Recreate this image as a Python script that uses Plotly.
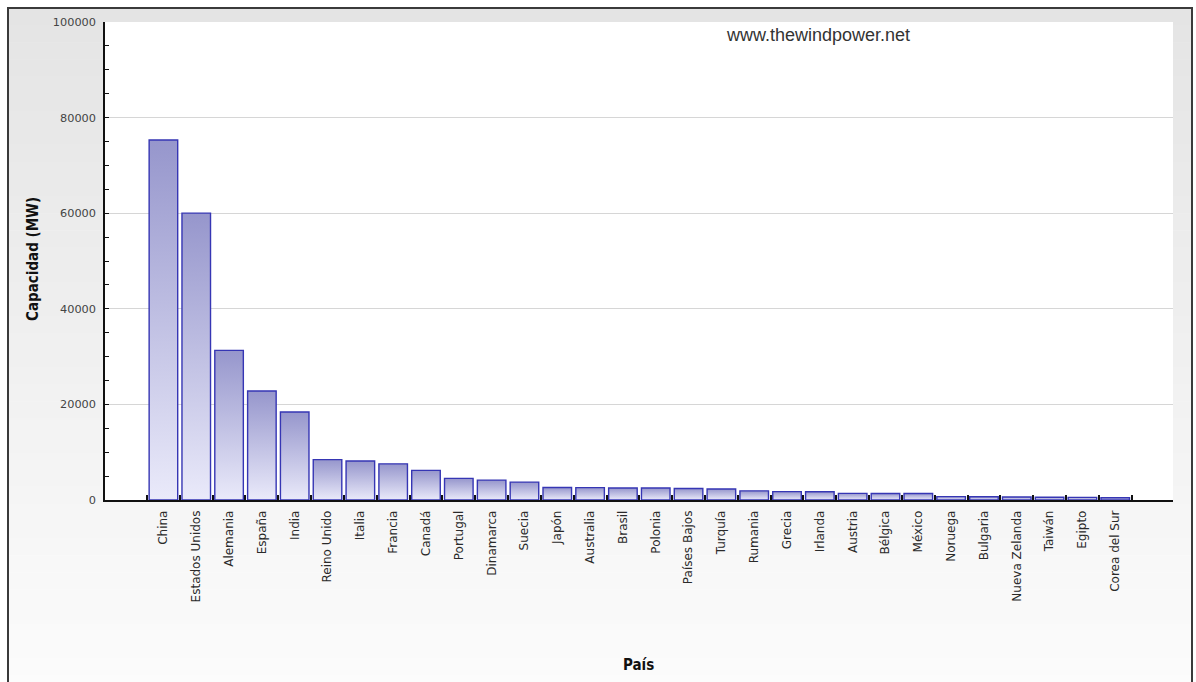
import plotly.graph_objects as go

# Installed wind power capacity by country (MW)
countries = ["China", "Estados Unidos", "Alemania", "España", "India", "Reino Unido",
             "Italia", "Francia", "Canadá", "Portugal", "Dinamarca", "Suecia", "Japón",
             "Australia", "Brasil", "Polonia", "Países Bajos", "Turquía", "Rumania",
             "Grecia", "Irlanda", "Austria", "Bélgica", "México", "Noruega", "Bulgaria",
             "Nueva Zelanda", "Taiwán", "Egipto", "Corea del Sur"]
capacity_mw = [75324, 60007, 31308, 22796, 18421, 8445, 8144, 7564, 6201, 4525,
               4162, 3745, 2614, 2584, 2508, 2497, 2391, 2312, 1905, 1749,
               1738, 1378, 1375, 1370, 703, 684, 622, 564, 550, 483]
y_ticks = [0, 20000, 40000, 60000, 80000, 100000]

W, H = 1196, 682
ML, MR, MT, MB = 105, 23, 22, 182
PW, PH = W - ML - MR, H - MT - MB

BAR_W = 0.87
BAR_TOP = "#9696cc"
BAR_BOTTOM = "#eaeafa"
BAR_EDGE = "#3636b4"


def px_x(p):
    return (p - ML) / PW


def px_y(p):
    return (H - MB - p) / PH


fig = go.Figure()

# one filled outline per country so each bar carries its own vertical gradient
for i, (name, v) in enumerate(zip(countries, capacity_mw)):
    x0, x1 = i - BAR_W / 2, i + BAR_W / 2
    fig.add_trace(go.Scatter(
        x=[x0, x0, x1, x1, x0],
        y=[0, v, v, 0, 0],
        mode="lines",
        fill="toself",
        fillgradient=dict(type="vertical",
                          colorscale=[[0, BAR_BOTTOM], [1, BAR_TOP]]),
        line=dict(color=BAR_EDGE, width=1.4),
        name=name,
        hovertemplate=name + ": %{y:,} MW<extra></extra>",
        showlegend=False,
    ))

# background: soft vertical gray gradient inside a framed panel
shapes = []
top, bottom = 8, 692
n_bands = 40
c0, c1 = 0xe4, 0xfc
for k in range(n_bands):
    y0 = top + (bottom - top) * k / n_bands
    y1 = top + (bottom - top) * (k + 1) / n_bands
    c = round(c0 + (c1 - c0) * (k + 0.5) / n_bands)
    col = f"rgb({c},{c},{c})"
    shapes.append(dict(type="rect", xref="paper", yref="paper", layer="below",
                       x0=px_x(8), x1=px_x(1192), y0=px_y(y1 + 0.5), y1=px_y(y0),
                       fillcolor=col, line=dict(width=0)))
# white plotting panel
shapes.append(dict(type="rect", xref="paper", yref="paper", layer="below",
                   x0=0, x1=1, y0=0, y1=1, fillcolor="white", line=dict(width=0)))
# outer frame
shapes.append(dict(type="rect", xref="paper", yref="paper", layer="below",
                   x0=px_x(8), x1=px_x(1192), y0=px_y(700), y1=px_y(8),
                   fillcolor="rgba(0,0,0,0)", line=dict(color="#3a3a3a", width=2)))

n = len(countries)
fig.update_layout(
    width=W, height=H,
    margin=dict(l=ML, r=MR, t=MT, b=MB, pad=0),
    paper_bgcolor="white",
    plot_bgcolor="rgba(0,0,0,0)",
    shapes=shapes,
    showlegend=False,
    font=dict(family="DejaVu Sans, sans-serif", color="#333333"),
    xaxis=dict(
        range=[-1.78, n + 0.76],
        tickmode="array", tickvals=list(range(n)), ticktext=countries,
        tickangle=-90, ticks="", showgrid=False, zeroline=False,
        ticklabelstandoff=4,
        tickfont=dict(family="DejaVu Sans, sans-serif", size=12, color="#2a2a2a"),
        showline=True, linecolor="#111111", linewidth=1.5,
        minor=dict(tickmode="array", tickvals=[i - 0.5 for i in range(n + 1)],
                   ticks="inside", ticklen=5, tickwidth=1.5, tickcolor="#111111",
                   showgrid=False),
        fixedrange=True,
    ),
    yaxis=dict(
        range=[0, 100000],
        tickmode="array", tickvals=y_ticks, ticktext=[str(t) for t in y_ticks],
        ticks="inside", ticklen=4, tickwidth=1.2, tickcolor="#111111",
        showgrid=True, gridcolor="#d6d6d6", gridwidth=1, zeroline=False,
        ticklabelstandoff=5,
        tickfont=dict(family="DejaVu Sans, sans-serif", size=11.3, color="#444444"),
        showline=True, linecolor="#111111", linewidth=1.5,
        minor=dict(dtick=5000, tick0=0, ticks="inside", ticklen=4, tickwidth=1.2,
                   tickcolor="#111111", showgrid=False),
        fixedrange=True,
    ),
    annotations=[
        dict(text="www.thewindpower.net", xref="paper", yref="paper",
             x=px_x(818), y=px_y(35), xanchor="center", yanchor="middle",
             showarrow=False,
             font=dict(family="Liberation Sans, Arial, sans-serif", size=18,
                       color="#333333")),
        dict(text="<b>Capacidad (MW)</b>", xref="paper", yref="paper",
             x=px_x(33), y=px_y(259), xanchor="center", yanchor="middle",
             showarrow=False, textangle=-90,
             font=dict(family="DejaVu Sans Condensed, DejaVu Sans, sans-serif",
                       size=15, color="#111111")),
        dict(text="<b>País</b>", xref="paper", yref="paper",
             x=px_x(638), y=px_y(665), xanchor="center", yanchor="middle",
             showarrow=False,
             font=dict(family="DejaVu Sans Condensed, DejaVu Sans, sans-serif",
                       size=15, color="#111111")),
    ],
)

fig.write_html("out.html")
